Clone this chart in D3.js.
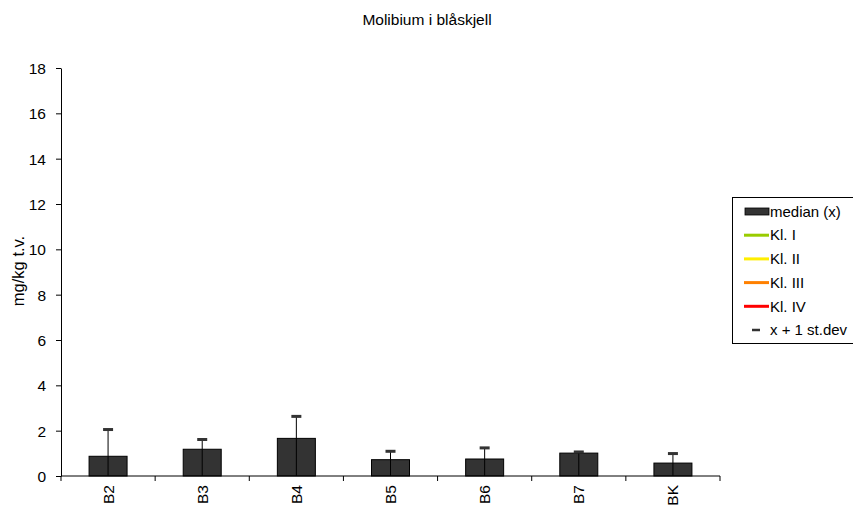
<!DOCTYPE html>
<html><head><meta charset="utf-8">
<script src="https://cdn.jsdelivr.net/npm/d3@7"></script>
<style>body{margin:0;background:#fff}svg{display:block;font-family:"Liberation Sans",Arial,sans-serif}</style>
</head><body><svg id="c" width="853" height="511"></svg>
<script>
const categories = ["B2","B3","B4","B5","B6","B7","BK"];
const medianValues = [0.87, 1.18, 1.66, 0.72, 0.75, 1.01, 0.57];
const plusStdev = [2.05, 1.61, 2.63, 1.09, 1.24, 1.06, 0.99];
const yTicks = [0,2,4,6,8,10,12,14,16,18];
const legendItems = [
  {label:"median (x)", type:"bar", color:"#333333"},
  {label:"Kl. I", type:"line", color:"#99cc00"},
  {label:"Kl. II", type:"line", color:"#ffee00"},
  {label:"Kl. III", type:"line", color:"#ff8000"},
  {label:"Kl. IV", type:"line", color:"#ff0000"},
  {label:"x + 1 st.dev", type:"dash", color:"#333333"}
];

const svg = d3.select("#c");
const m = {left:61, right:720, top:68, bottom:476};
const x = d3.scaleBand().domain(categories).range([m.left, m.right]).paddingInner(0).paddingOuter(0);
const y = d3.scaleLinear().domain([0,18]).range([m.bottom, m.top]);
const FF = "Liberation Sans, Arial, sans-serif";

svg.append("text").attr("x",427).attr("y",25).attr("text-anchor","middle")
  .attr("font-size",15.5).text("Molibium i blåskjell");

// y axis
const ya = svg.append("g").attr("transform",`translate(${m.left},0)`)
  .call(d3.axisLeft(y).tickValues(yTicks).tickSize(5).tickSizeOuter(0).tickFormat(d3.format("d")));
ya.select(".domain").attr("stroke","#000");
ya.selectAll("text").attr("font-size",15.5).attr("fill","#000").attr("font-family",FF).attr("x",-15).attr("dy","0.35em");
ya.selectAll("line").attr("stroke","#000");

svg.append("text").attr("transform",`translate(24,${271}) rotate(-90)`)
  .attr("text-anchor","middle").attr("font-size",16.5).text("mg/kg t.v.");

// bars
const bw = 38;
svg.append("g").selectAll("rect").data(categories).join("rect")
  .attr("x",(d)=>x(d)+x.bandwidth()/2-bw/2)
  .attr("y",(d,i)=>y(medianValues[i]))
  .attr("width",bw)
  .attr("height",(d,i)=>y(0)-y(medianValues[i]))
  .attr("fill","#333333").attr("stroke","#000").attr("stroke-width",1);

// error lines
const eg = svg.append("g");
eg.selectAll("line.v").data(categories).join("line").attr("class","v")
  .attr("x1",d=>x(d)+x.bandwidth()/2).attr("x2",d=>x(d)+x.bandwidth()/2)
  .attr("y1",y(0)).attr("y2",(d,i)=>y(plusStdev[i]))
  .attr("stroke","#000").attr("stroke-width",1);
eg.selectAll("line.c").data(categories).join("line").attr("class","c")
  .attr("x1",d=>x(d)+x.bandwidth()/2-5).attr("x2",d=>x(d)+x.bandwidth()/2+5)
  .attr("y1",(d,i)=>y(plusStdev[i])).attr("y2",(d,i)=>y(plusStdev[i]))
  .attr("stroke","#333").attr("stroke-width",3);

// x axis
const xa = svg.append("g").attr("transform",`translate(0,${m.bottom})`);
xa.append("line").attr("x1",m.left).attr("x2",m.right).attr("y1",0).attr("y2",0).attr("stroke","#000");
const bounds = categories.map(d=>x(d)).concat([m.right]);
xa.selectAll("line.t").data(bounds).join("line").attr("class","t")
  .attr("x1",d=>d).attr("x2",d=>d).attr("y1",0).attr("y2",5).attr("stroke","#000");
xa.selectAll("text").data(categories).join("text")
  .attr("transform",d=>`translate(${x(d)+x.bandwidth()/2+5.5},${9}) rotate(-90)`)
  .attr("text-anchor","end").attr("font-size",15.5).text(d=>d);

// legend
const lg = svg.append("g").attr("transform","translate(732,197)");
lg.append("rect").attr("x",0.5).attr("y",0.5).attr("width",122).attr("height",146)
  .attr("fill","#fff").attr("stroke","#000");
legendItems.forEach((it,i)=>{
  const cy = 14.5 + i*23.7;
  if(it.type==="bar"){
    lg.append("rect").attr("x",13).attr("y",cy-3.5).attr("width",24).attr("height",7)
      .attr("fill",it.color).attr("stroke","#000").attr("stroke-width",0.8);
  } else if(it.type==="line"){
    lg.append("line").attr("x1",12).attr("x2",37).attr("y1",cy).attr("y2",cy)
      .attr("stroke",it.color).attr("stroke-width",3);
  } else {
    lg.append("line").attr("x1",20).attr("x2",28).attr("y1",cy).attr("y2",cy)
      .attr("stroke",it.color).attr("stroke-width",2.5);
  }
  lg.append("text").attr("x",38).attr("y",cy+5.2).attr("font-size",15).text(it.label);
});
</script></body></html>
